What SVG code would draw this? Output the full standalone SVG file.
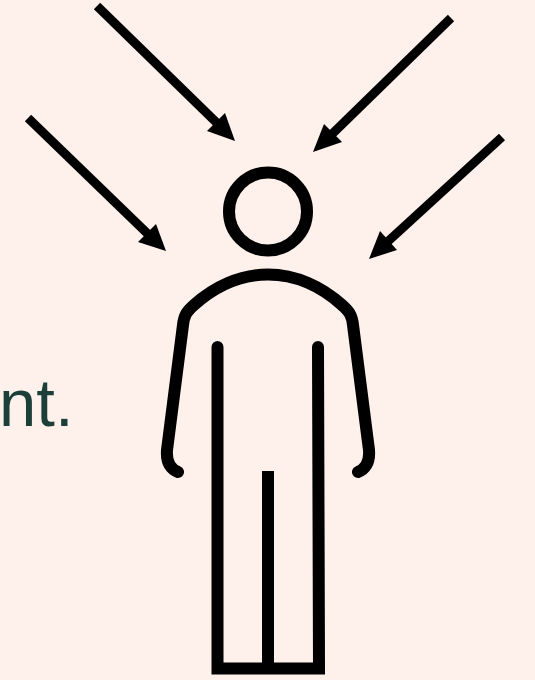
<svg xmlns="http://www.w3.org/2000/svg" width="535" height="680" viewBox="0 0 535 680">
<style>
.ln{fill:none;stroke:#000;stroke-width:12}
.rd{stroke-linecap:round;stroke-linejoin:round}
.lg{stroke-linecap:round;stroke-linejoin:miter}
.ar{fill:none;stroke:#000;stroke-width:9}
.hd{fill:#000}
.tx{font-family:"Liberation Sans",Arial,sans-serif;font-size:67px;fill:#1c3f3a}
</style>
<rect width="535" height="680" fill="#fef0eb"/>
<text class="tx" x="-1" y="426">nt.</text>
<g id="person">
<circle class="ln" cx="268" cy="211.5" r="39"/>
<path class="ln rd" d="M178 472C171 469 166 463 167 450L183 325C184 316 186 312 194 305C214 287 240 274.500 268 274.500C296 274.500 322 287 342 305C350 312 352 316 353 325L369 450C370 463 365 469 358 472"/>
<path class="ln lg" d="M217.500 347V668.500H319L318 347"/>
<path class="ln" d="M268 471V668"/>
</g>
<g id="connectors">
<path class="ar" d="M97 6L220 126"/><polygon class="hd" points="235,141 225,113 207,131"/>
<path class="ar" d="M451 18L328 138"/><polygon class="hd" points="313,152 324,124 342,142"/>
<path class="ar" d="M28 118L151 237"/><polygon class="hd" points="166,251 156,224 138,242"/>
<path class="ar" d="M502 137L384 245"/><polygon class="hd" points="369,259 380,231 397,250"/>
</g>
</svg>
